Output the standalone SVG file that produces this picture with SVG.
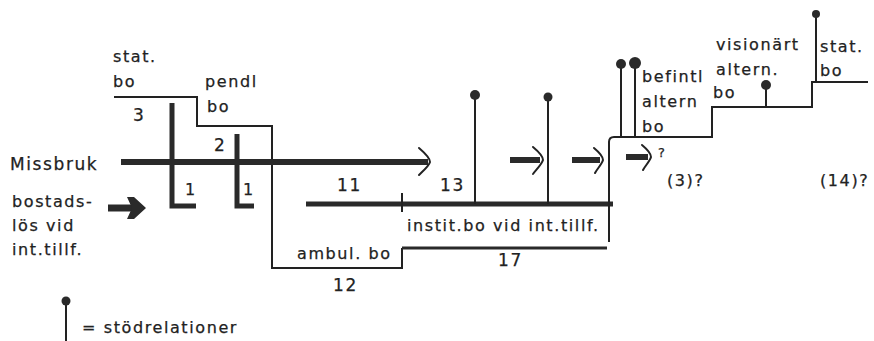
<svg xmlns="http://www.w3.org/2000/svg" width="874" height="341" viewBox="0 0 874 341">
<style>
text{font-family:"DejaVu Sans","Liberation Sans",sans-serif;font-size:17px;fill:#222;letter-spacing:1.6px;stroke:#222;stroke-width:0.25px}
.s{font-size:16px;letter-spacing:1.6px}
.thin{fill:none;stroke:#222;stroke-width:2}
.thick{fill:none;stroke:#2a2a2a;stroke-linecap:butt}
.chev{fill:none;stroke:#222;stroke-width:2;stroke-linecap:round}
.dot{fill:#2a2a2a}
</style>
<rect width="874" height="341" fill="#fff"/>
<g id="connectors">
  <polyline class="thin" points="114,97 197,97 197,126 272,126 272,268 402,268 402,248"/>
  <polyline class="thick" stroke-width="5" points="172,103 172,206 196,206"/>
  <polyline class="thick" stroke-width="5" points="237,134 237,206 254,206"/>
  <line class="thick" stroke-width="6" x1="121" y1="162" x2="428" y2="162"/>
  <path class="chev" d="M419,148 C426,154 430,159 430,162 C429,166 423,171 419,175"/>
  <line class="thick" stroke-width="6" x1="510" y1="160" x2="540" y2="160"/>
  <path class="chev" d="M533,147 C539,152 543,157 543,160 C542,164 536,170 533,174"/>
  <line class="thick" stroke-width="6" x1="572" y1="160" x2="600" y2="160"/>
  <path class="chev" d="M594,148 C600,153 603,157 603,160 C602,164 597,169 595,173"/>
  <line class="thick" stroke-width="6" x1="626" y1="157" x2="648" y2="157"/>
  <path class="chev" d="M642,145 C648,150 651,154 651,157 C650,161 645,166 643,170"/>
  <line class="thick" stroke-width="7" x1="108" y1="208" x2="132" y2="208"/>
  <polygon fill="#2a2a2a" points="127,197 134,197 146,208 134,219 127,219 132,208"/>
  <line class="thick" stroke-width="5" x1="306" y1="204" x2="613" y2="204"/>
  <line class="thin" x1="402" y1="193" x2="402" y2="212"/>
  <line class="thick" stroke-width="3" x1="402" y1="248" x2="607" y2="248"/>
  <path class="thin" d="M609,242 L609,142 Q609,137 614,137 L712,137 L712,107 L812,107 L812,82 L868,82"/>
  <line class="thin" x1="475" y1="95" x2="475" y2="204"/>
  <line class="thin" x1="548" y1="97" x2="548" y2="204"/>
  <line class="thin" x1="621" y1="64" x2="621" y2="137"/>
  <line class="thin" x1="635" y1="63" x2="635" y2="137"/>
  <line class="thin" x1="766" y1="85" x2="766" y2="107"/>
  <line class="thin" x1="816" y1="14" x2="816" y2="82"/>
</g>
<g id="pins">
  <circle class="dot" cx="475" cy="95" r="5"/>
  <circle class="dot" cx="548" cy="97" r="4.5"/>
  <circle class="dot" cx="621" cy="64" r="5"/>
  <circle class="dot" cx="635" cy="63" r="6"/>
  <circle class="dot" cx="766" cy="85" r="5"/>
  <circle class="dot" cx="816" cy="14" r="4"/>
</g>
<g id="legend">
  <line class="thin" x1="66" y1="301" x2="66" y2="341"/>
  <circle class="dot" cx="66" cy="301" r="4.5"/>
  <text x="82" y="333" class="s">= stödrelationer</text>
</g>
<g id="labels">
  <text x="113" y="62" class="s">stat.</text>
  <text x="113" y="87" class="s">bo</text>
  <text x="205" y="87" class="s">pendl</text>
  <text x="207" y="112" class="s">bo</text>
  <text x="133" y="121">3</text>
  <text x="214" y="151">2</text>
  <text x="10" y="170">Missbruk</text>
  <text x="12" y="207" class="s">bostads-</text>
  <text x="12" y="231" class="s">lös vid</text>
  <text x="12" y="255" class="s">int.tillf.</text>
  <text x="185" y="195" class="s">1</text>
  <text x="243" y="195" class="s">1</text>
  <text x="337" y="191">11</text>
  <text x="440" y="191">13</text>
  <text x="407" y="231" class="s">instit.bo vid int.tillf.</text>
  <text x="297" y="259" class="s">ambul. bo</text>
  <text x="333" y="291">12</text>
  <text x="498" y="266">17</text>
  <text x="642" y="82" class="s">befintl</text>
  <text x="642" y="107" class="s">altern</text>
  <text x="642" y="132" class="s">bo</text>
  <text x="716" y="50" class="s">visionärt</text>
  <text x="716" y="75" class="s">altern.</text>
  <text x="713" y="98" class="s">bo</text>
  <text x="820" y="52" class="s">stat.</text>
  <text x="820" y="76" class="s">bo</text>
  <text x="658" y="157" style="font-size:13px">?</text>
  <text x="667" y="186" class="s">(3)?</text>
  <text x="820" y="186" class="s">(14)?</text>
</g>
</svg>
